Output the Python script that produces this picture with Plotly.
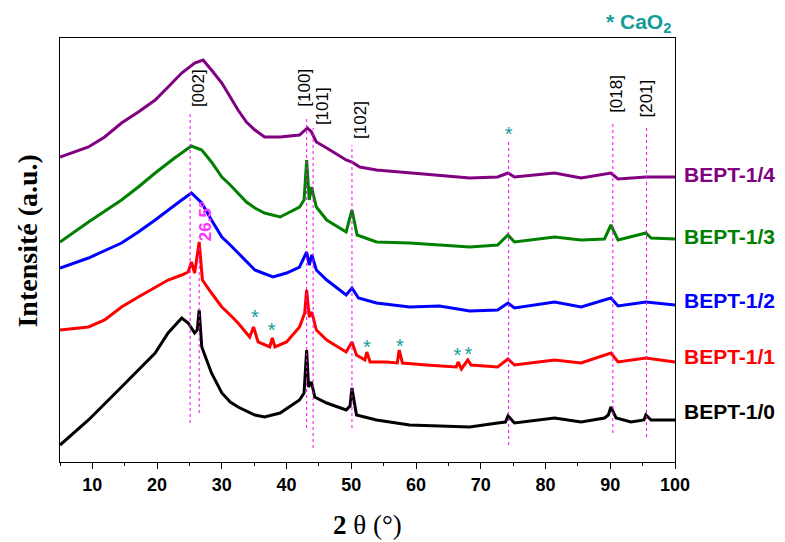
import plotly.graph_objects as go

# ---- data (2θ in degrees, intensity in arbitrary offset units) ----
x_10 = [5, 9.4, 14.5, 17.1, 19.7, 21.7, 23.8, 24.8, 25.8, 26.2, 26.5, 26.9, 28.4, 30.0, 31.3, 32.5, 35.1, 36.6,
        39.0, 42.0, 42.7, 43.1, 43.4, 43.85, 44.35, 46.2, 49.2, 49.8, 50.1, 50.8, 53.9, 59.0, 68.3,
        72.6, 73.8, 74.2, 75.2, 81.4, 85.5, 89.1, 89.7, 90.1, 90.9, 93.2, 95.2, 95.5, 96.3, 100]
y_10 = [17, 42, 75, 92, 109, 129, 144, 139, 129, 132, 152, 115, 89, 69, 60, 55, 47, 45,
        49, 62, 69, 112, 75, 80, 65, 59, 52, 56, 74, 47, 42, 37, 35,
        39, 40, 46, 39, 44, 40, 44, 47, 55, 44, 40, 42, 47, 42, 42]

x_11 = [5, 9.4, 11.9, 14.5, 17.1, 19.7, 21.7, 23.8, 24.8, 25.3, 25.8, 26.5, 27.0, 28.4, 30.0, 31.3, 32.5, 34.3, 34.9,
        35.6, 36.6, 37.4, 37.8, 38.2, 40.0, 42.0, 42.8, 43.1, 43.5, 43.9, 44.6, 46.2, 49.2, 50.1,
        50.8, 52.1, 52.4, 52.9, 55.4, 57.1, 57.4, 57.9, 61.6, 66.2, 66.5, 67.0, 68.0, 68.5, 72.6,
        74.2, 75.2, 81.4, 85.5, 90.1, 91.2, 95.5, 100]
y_11 = [132, 135, 142, 155, 165, 175, 182, 187, 190, 200, 189, 220, 182, 169, 155, 147, 139, 125, 135,
        120, 117, 115, 124, 115, 120, 135, 149, 172, 145, 150, 132, 122, 110, 120,
        107, 102, 110, 100, 100, 99, 112, 99, 97, 95, 100, 93, 102, 97, 95,
        103, 97, 102, 99, 109, 100, 104, 100]

x_12 = [5, 9.4, 14.5, 17.1, 19.7, 21.7, 23.8, 25.3, 26.9, 28.4, 30.0, 31.3, 32.5, 33.8, 35.1, 35.9, 37.9, 40.0, 42.0,
        43.1, 43.5, 43.9, 44.6, 46.2, 49.2, 50.1, 51.1, 53.9, 59.0, 63.6, 68.3,
        72.6, 74.2, 75.2, 81.4, 85.5, 90.1, 91.2, 95.5, 100]
y_12 = [194, 204, 219, 230, 242, 252, 262, 269, 259, 242, 225, 217, 209, 200, 192, 190, 185, 189, 195,
        210, 197, 207, 192, 182, 167, 174, 164, 159, 155, 156, 151,
        152, 159, 154, 160, 155, 164, 156, 160, 157]

x_13 = [5, 9.4, 14.5, 17.1, 19.7, 22.7, 25.3, 26.9, 28.4, 30.0, 31.3, 32.5, 33.8, 35.1, 36.6, 39.0, 42.0, 42.7,
        43.1, 43.5, 43.85, 44.6, 46.2, 49.2, 50.1, 50.9, 53.9, 59.0, 68.3,
        72.6, 74.2, 75.2, 81.4, 85.5, 89.1, 90.1, 91.2, 95.5, 96.3, 100]
y_13 = [220, 240, 262, 275, 289, 304, 316, 312, 300, 285, 277, 269, 260, 254, 249, 245, 255, 262,
        302, 262, 275, 255, 242, 230, 252, 227, 220, 219, 215,
        217, 227, 220, 225, 222, 223, 237, 222, 229, 224, 223]

x_14 = [5, 9.4, 11.9, 14.5, 17.1, 19.7, 21.7, 23.8, 25.8, 27.1, 28.4, 30.0, 31.3, 32.5, 33.8, 35.1, 36.6, 39.0, 42.0,
        43.2, 43.85, 44.6, 46.2, 49.2, 50.1, 51.3, 53.9, 59.0, 68.3,
        72.6, 74.2, 75.2, 81.4, 85.5, 90.1, 91.2, 95.5, 100]
y_14 = [305, 315, 325, 339, 350, 362, 375, 389, 399, 402, 392, 379, 365, 352, 340, 332, 325, 325, 327,
        334, 330, 320, 314, 302, 300, 295, 292, 289, 284,
        285, 289, 285, 289, 284, 289, 283, 285, 285]

series_names = ["BEPT-1/0", "BEPT-1/1", "BEPT-1/2", "BEPT-1/3", "BEPT-1/4"]
series_x = [x_10, x_11, x_12, x_13, x_14]
series_y = [y_10, y_11, y_12, y_13, y_14]
series_colors = ["#000000", "#FF0000", "#0000FF", "#008000", "#800080"]

# reflections (2θ), labels, guide line extents (intensity units)
refl_pos = [25.1, 43.1, 44.1, 50.1, 74.3, 90.4, 95.6]
refl_labels = ["[002]", "[100]", "[101]", "[102]", "", "[018]", "[201]"]
refl_label_y = [374, 374, 356, 342, 0, 368, 363]
refl_label_shift = [8, -3, 9, 8, 0, 3, -1]
refl_y0 = [39, 34, 14, 34, 17, 29, 25]
refl_y1 = [350, 345, 334, 317, 320, 339, 337]

extra_pos = [26.5]
extra_label = ["26.5°"]
extra_y0 = [49]
extra_y1 = [217]
extra_label_y = [241]

star_x = [35.1, 37.7, 52.4, 57.5, 66.4, 68.1, 74.3]
star_y = [143, 130, 113, 114, 105, 106, 326]

label_y_paper = [0.118, 0.248, 0.382, 0.531, 0.677]

fig = go.Figure()
for name, xs, ys, c in zip(series_names, series_x, series_y, series_colors):
    fig.add_trace(go.Scatter(x=xs, y=ys, mode="lines", name=name,
                             line=dict(color=c, width=3), showlegend=False,
                             hoverinfo="skip"))

fig.add_trace(go.Scatter(x=star_x, y=star_y, mode="text", text=["*"] * len(star_x),
                         textfont=dict(family="Arial, Liberation Sans", size=20, color="#139C9A"),
                         textposition="middle center", showlegend=False, hoverinfo="skip"))

for p, y0, y1 in zip(refl_pos + extra_pos, refl_y0 + extra_y0, refl_y1 + extra_y1):
    fig.add_shape(type="line", x0=p, x1=p, y0=y0, y1=y1, xref="x", yref="y",
                  line=dict(color="#FF00FF", width=1, dash="dot"))

for p, lab, ly, sh in zip(refl_pos, refl_labels, refl_label_y, refl_label_shift):
    if lab:
        fig.add_annotation(x=p, y=ly, xref="x", yref="y", text=lab, textangle=-90,
                           showarrow=False, xshift=sh, xanchor="center", yanchor="middle",
                           font=dict(family="Arial, Liberation Sans", size=17, color="black"))

for p, lab, ly in zip(extra_pos, extra_label, extra_label_y):
    fig.add_annotation(x=p, y=ly, xref="x", yref="y", text="<b>" + lab + "</b>", textangle=-90,
                       showarrow=False, xshift=6, xanchor="center", yanchor="middle",
                       font=dict(family="Arial, Liberation Sans", size=17, color="#FF33FF"))

for name, c, yp in zip(series_names, series_colors, label_y_paper):
    fig.add_annotation(x=1.012, y=yp, xref="paper", yref="paper", text="<b>" + name + "</b>",
                       showarrow=False, xanchor="left", yanchor="middle",
                       font=dict(family="Arial, Liberation Sans", size=21, color=c))

fig.add_annotation(x=0.94, y=1.035, xref="paper", yref="paper",
                   text="<b>* CaO<sub>2</sub></b>", showarrow=False,
                   xanchor="center", yanchor="middle",
                   font=dict(family="Arial, Liberation Sans", size=21, color="#139C9A"))

fig.add_annotation(x=-0.052, y=0.52, xref="paper", yref="paper", text="<b>Intensité (a.u.)</b>",
                   textangle=-90, showarrow=False, xanchor="center", yanchor="middle",
                   font=dict(family="Liberation Serif, Times New Roman", size=28, color="black"))
fig.add_annotation(x=0.5, y=-0.149, xref="paper", yref="paper", text="<b>2</b> θ (°)",
                   showarrow=False, xanchor="center", yanchor="middle",
                   font=dict(family="Liberation Serif, Times New Roman", size=27, color="black"))

fig.update_xaxes(range=[5, 100], tickvals=[10, 20, 30, 40, 50, 60, 70, 80, 90, 100],
                 ticktext=["<b>%d</b>" % v for v in [10, 20, 30, 40, 50, 60, 70, 80, 90, 100]],
                 ticks="outside", ticklen=6, tickwidth=1, tickcolor="black",
                 minor=dict(dtick=5, tick0=5, ticks="outside", ticklen=3, tickcolor="black"),
                 showline=True, linecolor="black", linewidth=1, mirror=True,
                 showgrid=False, zeroline=False,
                 tickfont=dict(family="Arial, Liberation Sans", size=18, color="black"))
fig.update_yaxes(range=[0, 424], showticklabels=False, ticks="",
                 showline=True, linecolor="black", linewidth=1, mirror=True,
                 showgrid=False, zeroline=False)

# page body has an 8 px margin, so the figure is 8 px smaller on each axis
fig.update_layout(width=777, height=534, margin=dict(l=52, r=110, t=30, b=80),
                  plot_bgcolor="white", paper_bgcolor="white", hovermode=False)

fig.write_html("out.html")
